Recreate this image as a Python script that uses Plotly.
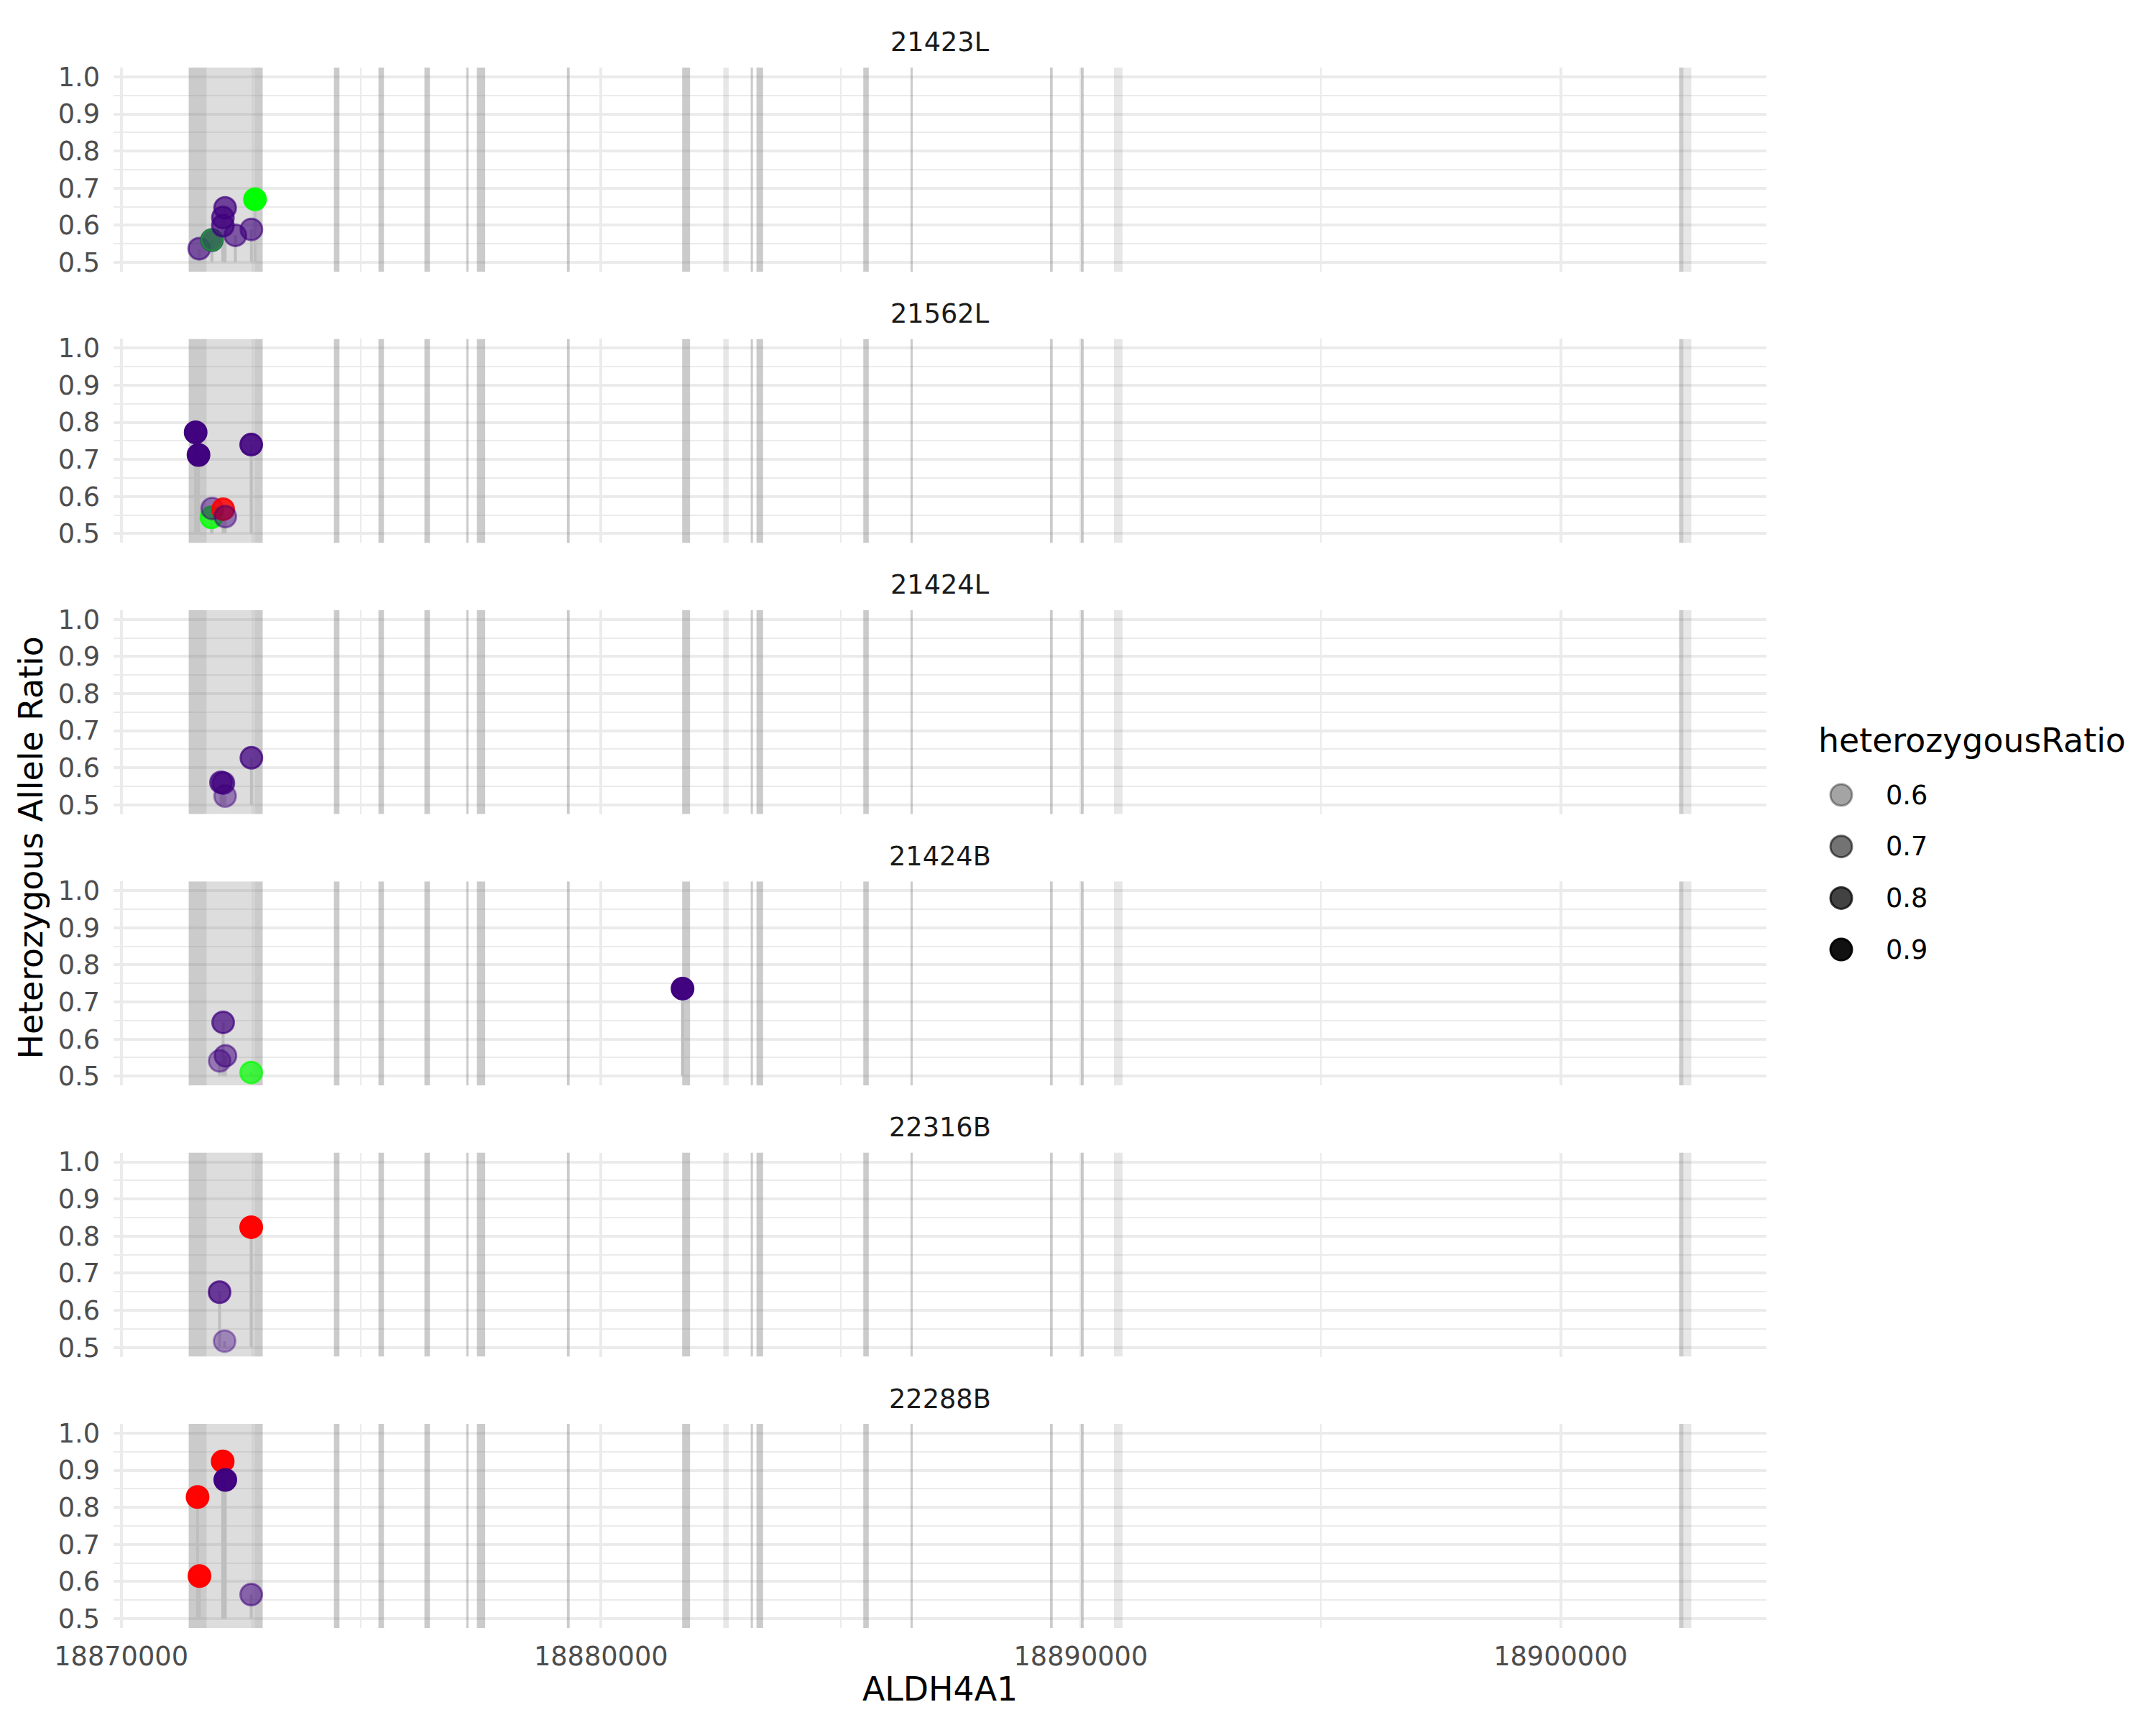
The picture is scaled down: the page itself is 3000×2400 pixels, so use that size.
import plotly.graph_objects as go

# ---------------- data ----------------
SAMPLES = ["21423L", "21562L", "21424L", "21424B", "22316B", "22288B"]

PT_SAMPLE = (["21423L"] * 9 + ["21562L"] * 7 + ["21424L"] * 4 +
             ["21424B"] * 5 + ["22316B"] * 3 + ["22288B"] * 5)
PT_POS = [
    18871627, 18871891, 18871891, 18872120, 18872120, 18872166, 18872380, 18872714, 18872789,
    18871552, 18871612, 18872710, 18871881, 18871896, 18872126, 18872170,
    18872714, 18872081, 18872130, 18872166,
    18872125, 18872052, 18872173, 18872710, 18881700,
    18872710, 18872051, 18872156,
    18872116, 18872170, 18871592, 18871632, 18872710,
]
PT_RATIO = [
    0.537, 0.560, 0.560, 0.599, 0.621, 0.647, 0.573, 0.589, 0.670,
    0.773, 0.712, 0.740, 0.544, 0.568, 0.566, 0.546,
    0.627, 0.561, 0.559, 0.524,
    0.645, 0.541, 0.555, 0.510, 0.736,
    0.824, 0.649, 0.517,
    0.924, 0.874, 0.828, 0.615, 0.565,
]
PT_HET = [
    0.73, 0.86, 0.60, 0.78, 0.78, 0.78, 0.73, 0.73, 0.93,
    0.93, 0.93, 0.88, 0.83, 0.67, 0.86, 0.67,
    0.80, 0.78, 0.78, 0.65,
    0.78, 0.65, 0.70, 0.78, 0.93,
    0.93, 0.80, 0.62,
    0.93, 0.93, 0.93, 0.93, 0.70,
]
PT_GROUP = [
    "purple", "purple", "green", "purple", "purple", "purple", "purple", "purple", "green",
    "purple", "purple", "purple", "green", "purple", "red", "purple",
    "purple", "purple", "purple", "purple",
    "purple", "purple", "purple", "green", "purple",
    "red", "purple", "purple",
    "red", "purple", "red", "red", "purple",
]

# exon blocks: start, end, number of overlapping transcript exons
EXON_START = [18871407, 18871781, 18872710, 18872784, 18874434, 18875362, 18876320,
              18877193, 18877414, 18879290, 18881692, 18882548, 18883121, 18883241,
              18885467, 18886451, 18889357, 18890005, 18890690, 18902470, 18902560]
EXON_END = [18871781, 18872710, 18872784, 18872949, 18874549, 18875476, 18876434,
            18877239, 18877586, 18879347, 18881856, 18882662, 18883167, 18883379,
            18885581, 18886497, 18889414, 18890060, 18890870, 18902560, 18902725]
EXON_DEPTH = [5, 3, 4, 5, 5, 5, 5, 5, 5, 5, 5, 2, 5, 5, 5, 5, 5, 5, 2, 5, 2]

X_TICKS = [18870000, 18880000, 18890000, 18900000]
X_MINOR = [18875000, 18885000, 18895000]
Y_TICKS = [0.5, 0.6, 0.7, 0.8, 0.9, 1.0]
Y_MINOR = [0.55, 0.65, 0.75, 0.85, 0.95]
Y_LIMITS = [0.5, 1.0]
LEGEND_BREAKS = [0.6, 0.7, 0.8, 0.9]
ALPHA_LIMITS = (0.466, 0.935)
ALPHA_RANGE = (0.1, 1.0)

GROUP_RGB = {"purple": (63, 0, 125), "green": (0, 255, 0), "red": (255, 0, 0)}
EXON_RGB = (128, 128, 128)
EXON_ALPHA = 0.1

# ---------------- layout geometry (pixels) ----------------
W, H = 3000, 2400
PX_L, PX_R = 158, 2458
TOP0, STEP, PH = 94, 377.4, 284
FONT = "DejaVu Sans"


def alpha_of(h):
    t = (h - ALPHA_LIMITS[0]) / (ALPHA_LIMITS[1] - ALPHA_LIMITS[0])
    t = max(0.0, min(1.0, t))
    return ALPHA_RANGE[0] + t * (ALPHA_RANGE[1] - ALPHA_RANGE[0])


def rgba(rgb, a):
    return "rgba(%d,%d,%d,%.3f)" % (rgb[0], rgb[1], rgb[2], a)


def px(x):
    return x / W


def py(y):
    return 1 - y / H


xmin, xmax = min(EXON_START), max(EXON_END)
span = xmax - xmin
XR = [xmin - 0.05 * span, xmax + 0.05 * span]
yspan = Y_LIMITS[1] - Y_LIMITS[0]
YR = [Y_LIMITS[0] - 0.05 * yspan, Y_LIMITS[1] + 0.05 * yspan]

fig = go.Figure()
layout = dict(
    width=W, height=H,
    margin=dict(l=0, r=0, t=0, b=0, autoexpand=False),
    paper_bgcolor="white", plot_bgcolor="white",
    showlegend=False,
    font=dict(family=FONT),
)
annotations = []
shapes = []

depth_levels = sorted(set(EXON_DEPTH))

for i, s in enumerate(SAMPLES):
    n = "" if i == 0 else str(i + 1)
    top = TOP0 + STEP * i
    bot = top + PH
    idx = [k for k in range(len(PT_SAMPLE)) if PT_SAMPLE[k] == s]

    # exon rectangles (one filled trace per overlap depth)
    for d in depth_levels:
        rx, ry = [], []
        for j in range(len(EXON_START)):
            if EXON_DEPTH[j] != d:
                continue
            x0, x1 = EXON_START[j], EXON_END[j]
            rx += [x0, x1, x1, x0, x0, None]
            ry += [YR[0], YR[0], YR[1], YR[1], YR[0], None]
        fig.add_trace(go.Scatter(x=rx, y=ry, mode="lines", fill="toself",
                                 fillcolor=rgba(EXON_RGB, 1 - (1 - EXON_ALPHA) ** d),
                                 line=dict(width=0, color="rgba(0,0,0,0)"),
                                 xaxis="x" + n, yaxis="y" + n,
                                 hoverinfo="skip", showlegend=False))

    sx, sy = [], []
    for k in idx:
        sx += [PT_POS[k], PT_POS[k], None]
        sy += [Y_LIMITS[0], PT_RATIO[k], None]
    fig.add_trace(go.Scatter(x=sx, y=sy, mode="lines",
                             line=dict(color="#BEBEBE", width=4),
                             xaxis="x" + n, yaxis="y" + n,
                             hoverinfo="skip", showlegend=False))
    cols = [rgba(GROUP_RGB[PT_GROUP[k]], alpha_of(PT_HET[k])) for k in idx]
    fig.add_trace(go.Scatter(x=[PT_POS[k] for k in idx],
                             y=[PT_RATIO[k] for k in idx],
                             mode="markers",
                             marker=dict(size=30, color=cols,
                                         line=dict(color=cols, width=3)),
                             xaxis="x" + n, yaxis="y" + n,
                             showlegend=False))

    xa = dict(domain=[px(PX_L), px(PX_R)], anchor="y" + n, range=XR,
              tickmode="array", tickvals=X_TICKS, ticktext=[str(v) for v in X_TICKS],
              showticklabels=(i == len(SAMPLES) - 1), ticks="",
              ticklabelstandoff=14,
              tickfont=dict(family=FONT, size=36.7, color="#4D4D4D"),
              showgrid=True, gridcolor="#EBEBEB", gridwidth=4,
              minor=dict(tickmode="array", tickvals=X_MINOR, showgrid=True,
                         gridcolor="#EBEBEB", gridwidth=2, ticks=""),
              zeroline=False, showline=False, automargin=False, fixedrange=True)
    ya = dict(domain=[py(bot), py(top)], anchor="x" + n, range=YR,
              tickmode="array", tickvals=Y_TICKS, ticktext=["%.1f" % v for v in Y_TICKS],
              ticks="", ticklabelstandoff=18,
              tickfont=dict(family=FONT, size=36.7, color="#4D4D4D"),
              showgrid=True, gridcolor="#EBEBEB", gridwidth=4,
              minor=dict(tickmode="array", tickvals=Y_MINOR, showgrid=True,
                         gridcolor="#EBEBEB", gridwidth=2, ticks=""),
              zeroline=False, showline=False, automargin=False, fixedrange=True)
    layout["xaxis" + n] = xa
    layout["yaxis" + n] = ya

    annotations.append(dict(text=s, xref="paper", yref="paper",
                            x=px((PX_L + PX_R) / 2), y=py(top - 35),
                            xanchor="center", yanchor="middle", showarrow=False,
                            font=dict(family=FONT, size=36.7, color="#1A1A1A")))

# axis titles
annotations.append(dict(text="ALDH4A1", xref="paper", yref="paper",
                        x=px((PX_L + PX_R) / 2), y=py(2350), xanchor="center",
                        yanchor="middle", showarrow=False,
                        font=dict(family=FONT, size=45.8, color="black")))
annotations.append(dict(text="Heterozygous Allele Ratio", xref="paper", yref="paper",
                        x=px(42), y=py((TOP0 + TOP0 + STEP * 5 + PH) / 2),
                        xanchor="center", yanchor="middle", textangle=-90,
                        showarrow=False,
                        font=dict(family=FONT, size=45.8, color="black")))

# alpha legend
annotations.append(dict(text="heterozygousRatio", xref="paper", yref="paper",
                        x=px(2528), y=py(1030), xanchor="left", yanchor="middle",
                        showarrow=False,
                        font=dict(family=FONT, size=45.8, color="black")))
for b_i, b in enumerate(LEGEND_BREAKS):
    cy = 1106 + 71.7 * b_i
    cx = 2562
    r = 15
    c = rgba((0, 0, 0), alpha_of(b))
    shapes.append(dict(type="circle", xref="paper", yref="paper",
                       x0=px(cx - r), x1=px(cx + r), y0=py(cy + r), y1=py(cy - r),
                       fillcolor=c, line=dict(color=c, width=3), layer="above"))
    annotations.append(dict(text="%.1f" % b, xref="paper", yref="paper",
                            x=px(2622), y=py(cy), xanchor="left", yanchor="middle",
                            showarrow=False,
                            font=dict(family=FONT, size=36.7, color="black")))

layout["annotations"] = annotations
layout["shapes"] = shapes
fig.update_layout(**layout)
fig.write_html("out.html")
